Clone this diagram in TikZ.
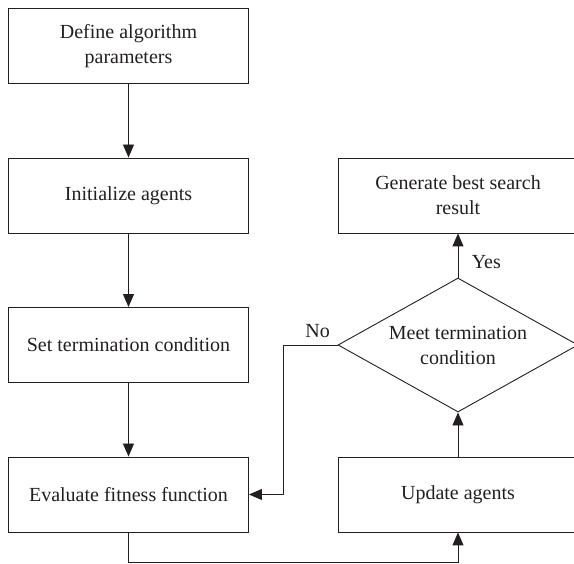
\documentclass[tikz,border=0pt]{standalone}
\usepackage{fontspec}
\setmainfont{Liberation Serif}
\usepackage{tikz}
\usetikzlibrary{arrows.meta,shapes.geometric}
\definecolor{ink}{RGB}{35,31,32}

\begin{document}
\begin{tikzpicture}[->,>={Triangle[length=13pt,width=11pt]},line width=0.9pt,
    draw=ink,text=ink,node distance=149.5pt,font=\fontsize{20}{25}\selectfont,
    box/.style={draw,rectangle,minimum width=240pt,minimum height=75pt,
      align=center,inner sep=0pt},
    test/.style={draw,diamond,aspect=1.8,minimum width=240pt,
      minimum height=134pt,align=center,inner sep=0pt}]
  \useasboundingbox (0,0) rectangle (574pt,-564pt);
  \node[box] (define) at (128.5pt,-46pt) {Define algorithm\\parameters};
  \node[box] (init) [below of=define] {Initialize agents};
  \node[box] (term) [below of=init] {Set termination condition};
  \node[box] (eval) [below of=term] {Evaluate fitness function};
  \node[box] (best) [right of=init, node distance=329.5pt] {Generate best search\\result};
  \node[test] (check) [right of=term, node distance=329.5pt] {Meet termination\\condition};
  \node[box] (update) [right of=eval, node distance=329.5pt] {Update agents};
  \path (define) edge (init)
  (init) edge (term)
  (term) edge (eval)
  (update) edge (check)
  (check) edge node[right, pos=0.35, xshift=10pt] {Yes} (best);
  \draw (check.west) -- node[above, xshift=7pt, yshift=4pt] {No} ++(-54pt,0)
    |- (eval.east);
  \draw (eval.south) -- ++(0,-30.5pt) -| (update.south);
\end{tikzpicture}
\end{document}
